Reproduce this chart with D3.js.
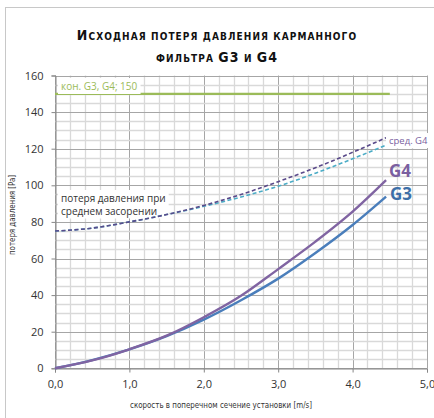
<!DOCTYPE html>
<html><head><meta charset="utf-8">
<script src="https://cdn.jsdelivr.net/npm/d3@7"></script>
<style>body{margin:0;background:#fff}svg{display:block}</style>
</head><body><svg id="c" width="434" height="418"></svg>
<script>
const velocity = [0, 0.5, 1, 1.5, 2, 2.5, 3, 3.5, 4, 4.45];
const g3 = [0, 4.5, 10.4, 17.6, 26.6, 37.2, 49.0, 63.0, 78.3, 93.8];
const g4 = [0, 4.3, 10.4, 17.8, 27.9, 39.6, 54.2, 69.2, 85.6, 102.8];
const g4Avg = [75, 76.6, 80, 84, 89, 95, 102, 109.6, 118, 126];
const g3Avg = [75, 76.6, 80, 84, 88.5, 93.6, 99.5, 106.6, 114.5, 122];
const finalX = [0, 4.5];
const finalVal = [150, 150];
const xTicks = [0, 1, 2, 3, 4, 5];
const yTicks = [0, 20, 40, 60, 80, 100, 120, 140, 160];

const svg = d3.select("#c");
const x = d3.scaleLinear().domain([0, 5]).range([55, 427]);
const y = d3.scaleLinear().domain([0, 160]).range([368.3, 75.5]);
const font = "'Open Sans', 'DejaVu Sans', sans-serif";

// outer frame
svg.append("rect").attr("x", 5.5).attr("y", 7.5).attr("width", 440).attr("height", 420)
  .attr("fill", "none").attr("stroke", "#c8c8c8");

// title
const t1 = svg.append("text").attr("x", 217).attr("y", 40).attr("text-anchor", "middle")
  .attr("font-family", "'DejaVu Sans Condensed', 'Open Sans', sans-serif").attr("font-weight", "bold")
  .attr("fill", "#111").attr("letter-spacing", 1.1);
t1.append("tspan").attr("font-size", 14).text("И");
t1.append("tspan").attr("font-size", 10).text("СХОДНАЯ ПОТЕРЯ ДАВЛЕНИЯ КАРМАННОГО");
const t2 = svg.append("text").attr("x", 217).attr("y", 62).attr("text-anchor", "middle")
  .attr("font-family", "'DejaVu Sans Condensed', 'Open Sans', sans-serif").attr("font-weight", "bold")
  .attr("fill", "#111").attr("letter-spacing", 1.1);
t2.append("tspan").attr("font-size", 10).text("ФИЛЬТРА ");
t2.append("tspan").attr("font-size", 14).text("G3");
t2.append("tspan").attr("font-size", 10).text(" И ");
t2.append("tspan").attr("font-size", 14).text("G4");

// grid
const g = svg.append("g");
const xMinor = d3.range(0, 5.0001, 0.2);
const yMinor = d3.range(0, 160.001, 5);
const isMajorX = d => Math.abs(d - Math.round(d)) < 1e-6;
g.selectAll(".vx").data(xMinor).join("line")
  .attr("x1", d => Math.round(x(d)) + 0.5).attr("x2", d => Math.round(x(d)) + 0.5)
  .attr("y1", y(0)).attr("y2", y(160))
  .attr("stroke", d => isMajorX(d) ? "#a6a6a6" : "#d9d9d9").attr("stroke-width", d => isMajorX(d) ? 1 : 1.3);
g.selectAll(".hy").data(yMinor).join("line")
  .attr("y1", d => Math.round(y(d)) + 0.5).attr("y2", d => Math.round(y(d)) + 0.5)
  .attr("x1", x(0)).attr("x2", x(5))
  .attr("stroke", d => d % 20 === 0 ? "#a6a6a6" : "#d9d9d9").attr("stroke-width", d => d % 20 === 0 ? 1 : 1.3);

// axes
const xa = svg.append("g").attr("transform", `translate(0,${Math.round(y(0)) + 0.5})`)
  .call(d3.axisBottom(x).tickValues(xTicks).tickFormat(d => d3.format(".1f")(d).replace(".", ",")).tickSize(4).tickPadding(8));
const ya = svg.append("g").attr("transform", `translate(${Math.round(x(0)) + 0.5},0)`)
  .call(d3.axisLeft(y).tickValues(yTicks).tickSize(4).tickPadding(8));
[xa, ya].forEach(a => {
  a.select(".domain").attr("stroke", "#868686");
  a.selectAll(".tick line").attr("stroke", "#868686");
  a.selectAll("text").attr("font-family", font).attr("font-size", 11).attr("fill", "#333");
});

// axis titles
svg.append("text").attr("x", 221).attr("y", 408).attr("text-anchor", "middle")
  .attr("font-family", "'DejaVu Sans Condensed', sans-serif").attr("font-size", 9.5).attr("fill", "#333")
  .attr("textLength", 182).attr("lengthAdjust", "spacingAndGlyphs")
  .text("скорость в поперечном сечение установки [m/s]");
svg.append("text").attr("transform", "translate(15,215) rotate(-90)").attr("text-anchor", "middle")
  .attr("font-family", "'DejaVu Sans Condensed', sans-serif").attr("font-size", 9.5).attr("fill", "#333")
  .attr("textLength", 80).attr("lengthAdjust", "spacingAndGlyphs")
  .text("потеря давления [Pa]");

// labels with white background
function label(tx, ty, lines, size, color, weight, bg) {
  const grp = svg.append("g");
  const txt = grp.append("text").attr("font-family", font).attr("font-size", size)
    .attr("fill", color).attr("font-weight", weight || "normal");
  lines.forEach((l, i) => txt.append("tspan").attr("x", tx).attr("y", ty + i * 12.5).text(l));
  if (bg) {
    const b = txt.node().getBBox();
    grp.insert("rect", "text").attr("x", b.x - 3).attr("y", b.y - 1).attr("width", b.width + 6).attr("height", b.height + 2).attr("fill", "#fff");
  }
}
label(61, 202, ["потеря давления при", "среднем засорении"], 10, "#333", "normal", true);

// lines
const line = d3.line().x(d => x(d[0])).y(d => y(d[1])).curve(d3.curveMonotoneX);
const pts = arr => velocity.map((v, i) => [v, arr[i]]);
svg.append("path").attr("d", line(finalX.map((v, i) => [v, finalVal[i]])))
  .attr("fill", "none").attr("stroke", "#9bbb59").attr("stroke-width", 2.2);
svg.append("path").attr("d", line(pts(g3Avg))).attr("fill", "none")
  .attr("stroke", "#4bacc6").attr("stroke-width", 1.6).attr("stroke-dasharray", "4,2.5");
svg.append("path").attr("d", line(pts(g4Avg))).attr("fill", "none")
  .attr("stroke", "#5a4a8a").attr("stroke-width", 1.6).attr("stroke-dasharray", "4,2.5");
svg.append("path").attr("d", line(pts(g3))).attr("fill", "none")
  .attr("stroke", "#4a7ebb").attr("stroke-width", 2.4);
svg.append("path").attr("d", line(pts(g4))).attr("fill", "none")
  .attr("stroke", "#8064a2").attr("stroke-width", 2.4);

label(61, 90, ["кон. G3, G4; 150"], 10, "#9bbb59", "normal", true);
label(389, 144, ["сред. G4"], 9.5, "#7a5fa0", "normal", true);
label(389, 177, ["G4"], 17, "#7a5fa0", "bold", false);
label(390, 200, ["G3"], 17, "#3d6fa8", "bold", false);
</script></body></html>
